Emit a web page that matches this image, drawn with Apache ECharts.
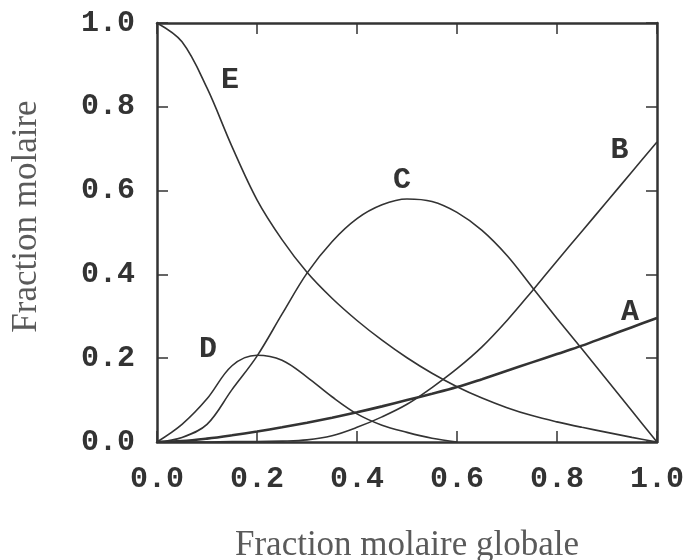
<!DOCTYPE html>
<html>
<head>
<meta charset="utf-8">
<script src="https://cdn.jsdelivr.net/npm/echarts@6/dist/echarts.min.js"></script>
<style>
  html, body { margin: 0; padding: 0; background: #fff; }
  #chart { width: 686px; height: 560px; }
</style>
</head>
<body>
<div id="chart"></div>
<script>
// Mole fraction of each species versus overall mole fraction (steps of 0.05)
const xs = [0, 0.05, 0.1, 0.15, 0.2, 0.25, 0.3, 0.35, 0.4, 0.45, 0.5, 0.55, 0.6, 0.65, 0.7, 0.75, 0.8, 0.85, 0.9, 0.95, 1.0];
const yA = [0, 0.002, 0.008, 0.016, 0.025, 0.035, 0.046, 0.058, 0.071, 0.085, 0.1, 0.115, 0.131, 0.15, 0.17, 0.19, 0.21, 0.23, 0.252, 0.274, 0.296];
const yB = [0, 0, 0, 0.001, 0.001, 0.002, 0.005, 0.015, 0.035, 0.06, 0.09, 0.13, 0.175, 0.227, 0.29, 0.36, 0.432, 0.503, 0.574, 0.645, 0.716];
const yC = [0, 0.011, 0.042, 0.125, 0.205, 0.305, 0.403, 0.478, 0.533, 0.566, 0.58, 0.574, 0.548, 0.505, 0.445, 0.37, 0.295, 0.222, 0.148, 0.074, 0];
const yD = [0, 0.042, 0.103, 0.182, 0.207, 0.195, 0.155, 0.108, 0.067, 0.04, 0.023, 0.009, 0, 0, 0, 0, 0, 0, 0, 0, 0];
const yE = [1.0, 0.955, 0.845, 0.705, 0.578, 0.483, 0.405, 0.343, 0.29, 0.243, 0.201, 0.164, 0.132, 0.105, 0.082, 0.063, 0.048, 0.035, 0.023, 0.011, 0];

// Curve names and where each name is written (data units)
const curveNames = ['A', 'B', 'C', 'D', 'E'];
const nameAt = [[0.946, 0.31], [0.925, 0.697], [0.49, 0.625], [0.102, 0.22], [0.146, 0.864]];

const xTitle = 'Fraction molaire globale';
const yTitle = 'Fraction molaire';

const curves = [yA, yB, yC, yD, yE].map(ys => xs.map((x, i) => [x, ys[i]]));
// D ends once it reaches zero
curves[3] = curves[3].slice(0, 13);
const widths = [2.6, 1.6, 1.6, 1.6, 1.6];

const ink = '#333';
const tickFont = { fontFamily: 'Liberation Mono', fontWeight: 'bold', fontSize: 30, color: ink };
const titleFont = { fontFamily: 'Liberation Serif', fontSize: 35, color: '#5a5a5a' };

const chart = echarts.init(document.getElementById('chart'));

const axisCommon = {
  type: 'value', min: 0, max: 1, interval: 0.2,
  axisLine: { show: true, onZero: false, lineStyle: { color: ink, width: 2.5 } },
  axisTick: { show: true, inside: true, length: 11, lineStyle: { color: ink, width: 1.5 } },
  splitLine: { show: false }
};

chart.setOption({
  animation: false,
  backgroundColor: '#fff',
  grid: { left: 157, top: 23, right: 29, bottom: 118, outerBoundsMode: 'none', containLabel: false },
  xAxis: [
    Object.assign({}, axisCommon, {
      position: 'bottom',
      axisLabel: Object.assign({ margin: 22, formatter: v => v.toFixed(1) }, tickFont),
      name: xTitle, nameLocation: 'middle', nameGap: 86,
      nameTextStyle: titleFont
    }),
    Object.assign({}, axisCommon, { position: 'top', axisLabel: { show: false } })
  ],
  yAxis: [
    Object.assign({}, axisCommon, {
      position: 'left',
      axisLabel: Object.assign({ margin: 22, formatter: v => v.toFixed(1) }, tickFont),
      name: yTitle, nameLocation: 'middle', nameGap: 113, nameRotate: 90,
      nameTextStyle: Object.assign({ padding: [0, 0, 0, 32] }, titleFont)
    }),
    Object.assign({}, axisCommon, { position: 'right', axisLabel: { show: false } })
  ],
  series: curves.map((data, i) => ({
    type: 'line',
    name: curveNames[i],
    data: data,
    smooth: 0.35,
    showSymbol: false,
    lineStyle: { color: ink, width: widths[i] },
    markPoint: {
      symbol: 'circle', symbolSize: 0,
      data: [{ coord: nameAt[i] }],
      label: {
        show: true, position: 'inside', formatter: curveNames[i],
        fontFamily: 'Liberation Mono', fontWeight: 'bold', fontSize: 30, color: ink
      }
    }
  }))
});
</script>
</body>
</html>
